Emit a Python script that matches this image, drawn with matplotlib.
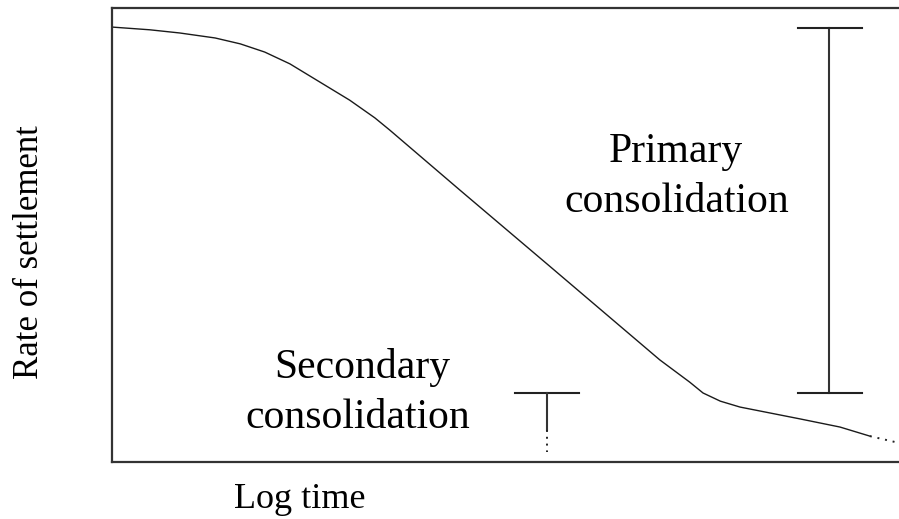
import matplotlib.pyplot as plt
import numpy as np

plt.rcParams["font.family"] = "Liberation Serif"

# settlement curve (x: log time, y: settlement rate, arbitrary units 0-100)
log_time = [0, 4.8, 8.6, 13.1, 16.3, 19.4, 22.6, 26.4, 30.2, 33.4, 35.3,
            44.2, 55.7, 69.6, 73.4, 75.1, 77.3, 79.8, 83.6, 87.4, 92.5, 96.3]
settlement = [95.8, 95.2, 94.5, 93.4, 92.1, 90.3, 87.7, 83.7, 79.7, 75.8, 73.1,
              59.9, 43.0, 22.5, 17.6, 15.2, 13.4, 12.1, 10.8, 9.5, 7.7, 5.7]
tail_time = [96.3, 100]
tail_settlement = [5.7, 4.2]

# primary consolidation bar
primary_x = 91.1
primary_range = [15.2, 95.6]
primary_cap = [87.2, 95.3]

# secondary consolidation marker
secondary_x = 55.3
secondary_top = 15.2
secondary_stem_end = 7.0
secondary_dot_end = 2.2
secondary_cap = [51.2, 59.3]

fig = plt.figure(figsize=(8.99, 5.19), dpi=100)
ax = fig.add_axes([112 / 899, 57 / 519, 1 - 112 / 899, 454 / 519])

ax.plot(log_time, settlement, color='#1a1a1a', lw=1.0)
ax.plot(tail_time, tail_settlement, color='#222222', lw=1.4, ls=(0, (1, 3)))

ax.plot([primary_x, primary_x], primary_range, color='#333333', lw=1.5)
for yv in primary_range:
    ax.plot(primary_cap, [yv, yv], color='#222222', lw=1.5)

ax.plot(secondary_cap, [secondary_top, secondary_top], color='#222222', lw=1.5)
ax.plot([secondary_x, secondary_x], [secondary_top, secondary_stem_end], color='#333333', lw=1.5)
ax.plot([secondary_x, secondary_x], [secondary_stem_end, secondary_dot_end],
        color='#222222', lw=1.4, ls=(0, (1, 2.5)))

ax.set_xlim(0, 100)
ax.set_ylim(0, 100)
ax.set_xticks([])
ax.set_yticks([])
ax.spines['right'].set_visible(False)
for s in ['left', 'top', 'bottom']:
    ax.spines[s].set_linewidth(1.6)
    ax.spines[s].set_color('#333333')

def px(x, y):
    return x / 899, 1 - y / 519

fs = 30
fig.text(*px(676, 162), 'Primary', fontsize=fs, ha='center', va='baseline')
fig.text(*px(677, 212), 'consolidation', fontsize=fs, ha='center', va='baseline')
fig.text(*px(362, 378), 'Secondary', fontsize=fs, ha='center', va='baseline')
fig.text(*px(358, 428), 'consolidation', fontsize=fs, ha='center', va='baseline')

fig.text(*px(300, 508), 'Log time', fontsize=26, ha='center', va='baseline')
fig.text(*px(30, 252), 'Rate of settlement', fontsize=25, ha='center', va='center',
         rotation=90)

fig.savefig('out.png', dpi=100)
